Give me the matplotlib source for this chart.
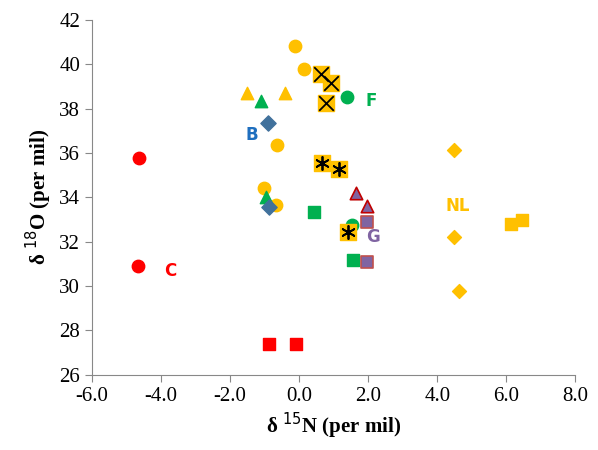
import matplotlib
matplotlib.use("Agg")
import matplotlib.pyplot as plt

Y = "#FFC000"; G = "#00B050"; R = "#FF0000"; B = "#41719C"; P = "#8064A2"

yc_x = [-0.12, 0.14, -0.64, -1.01, -0.67]; yc_y = [40.83, 39.8, 36.37, 34.43, 33.67]
rc_x = [-4.64, -4.67]; rc_y = [35.78, 30.92]
gc_x = [1.39, 1.54]; gc_y = [38.53, 32.77]
yt_x = [-1.51, -0.41]; yt_y = [38.7, 38.7]
gt_x = [-1.1, -0.96]; gt_y = [38.35, 34.0]
pt_x = [1.65, 1.97]; pt_y = [34.2, 33.6]
bd_x = [-0.9, -0.87]; bd_y = [37.36, 33.58]
gs_x = [0.43, 1.57]; gs_y = [33.35, 31.19]
ps_x = [1.97, 1.97]; ps_y = [32.9, 31.1]
xs_x = [0.64, 0.93, 0.78]; xs_y = [39.57, 39.16, 38.26]
as_x = [0.67, 1.16, 1.42]; as_y = [35.56, 35.29, 32.45]
rs_x = [-0.87, -0.09]; rs_y = [27.4, 27.4]
yd_x = [4.49, 4.49, 4.64]; yd_y = [36.14, 32.2, 29.8]
ys_x = [6.14, 6.46]; ys_y = [32.8, 33.0]

labels = [("C", -3.73, 30.7, R), ("B", -1.36, 36.8, "#1F6FBF"), ("F", 2.09, 38.35, G),
          ("G", 2.14, 32.2, P), ("NL", 4.6, 33.6, Y)]

fig = plt.figure(figsize=(5.98, 4.5), dpi=100)
ax = fig.add_axes([0.154, 0.167, 0.808, 0.789])
s = 80
ax.scatter(yc_x, yc_y, s=s, c=Y, marker="o", zorder=3)
ax.scatter(rc_x, rc_y, s=s, c=R, marker="o", zorder=3)
ax.scatter(gc_x, gc_y, s=s, c=G, marker="o", zorder=3)
ax.scatter(yt_x, yt_y, s=s, c=Y, marker="^", zorder=3)
ax.scatter(gt_x, gt_y, s=s, c=G, marker="^", zorder=3)
ax.scatter(pt_x, pt_y, s=s, c=P, marker="^", edgecolors="#C00000", linewidths=1.2, zorder=3)
ax.scatter(bd_x, bd_y, s=60, c=B, marker="D", zorder=4)
ax.scatter(gs_x, gs_y, s=s, c=G, marker="s", zorder=3)
ax.scatter(ps_x, ps_y, s=s, c=P, marker="s", edgecolors="#C0504D", linewidths=1.2, zorder=3)
ax.scatter(xs_x, xs_y, s=130, c=Y, marker="s", zorder=3)
ax.scatter(xs_x, xs_y, s=110, c="k", marker="x", linewidths=1.3, zorder=4)
ax.scatter(as_x, as_y, s=130, c=Y, marker="s", zorder=3)
ax.scatter(as_x, as_y, s=90, c="k", marker=(6, 2, 0), linewidths=1.3, zorder=4)
ax.scatter(rs_x, rs_y, s=s, c=R, marker="s", zorder=3)
ax.scatter(yd_x, yd_y, s=50, c=Y, marker="D", zorder=3)
ax.scatter(ys_x, ys_y, s=s, c=Y, marker="s", zorder=3)
for t, x, y, c in labels:
    ax.text(x, y, t, color=c, fontsize=12, fontweight="bold", ha="center", va="center",
            family="DejaVu Sans")

ax.set_xlim(-6, 8); ax.set_ylim(26, 42)
ax.set_xticks(range(-6, 9, 2))
ax.set_xticklabels([f"{v:.1f}" for v in range(-6, 9, 2)])
ax.set_yticks(range(26, 43, 2))
for sp in ["top", "right"]:
    ax.spines[sp].set_visible(False)
for sp in ["left", "bottom"]:
    ax.spines[sp].set_color("#888888")
ax.tick_params(colors="#888888", labelcolor="black", labelsize=15, length=5)
for lab in ax.get_xticklabels() + ax.get_yticklabels():
    lab.set_family("Liberation Serif")
plt.rcParams["mathtext.fontset"] = "custom"
plt.rcParams["mathtext.rm"] = "Liberation Serif:bold"
plt.rcParams["mathtext.bf"] = "Liberation Serif:bold"
ax.set_xlabel(r"δ $\mathrm{^{15}}$N (per mil)", family="Liberation Serif", fontweight="bold", fontsize=15)
ax.set_ylabel(r"δ $\mathrm{^{18}}$O (per mil)", family="Liberation Serif", fontweight="bold", fontsize=15)
fig.savefig("out.png", dpi=100)
